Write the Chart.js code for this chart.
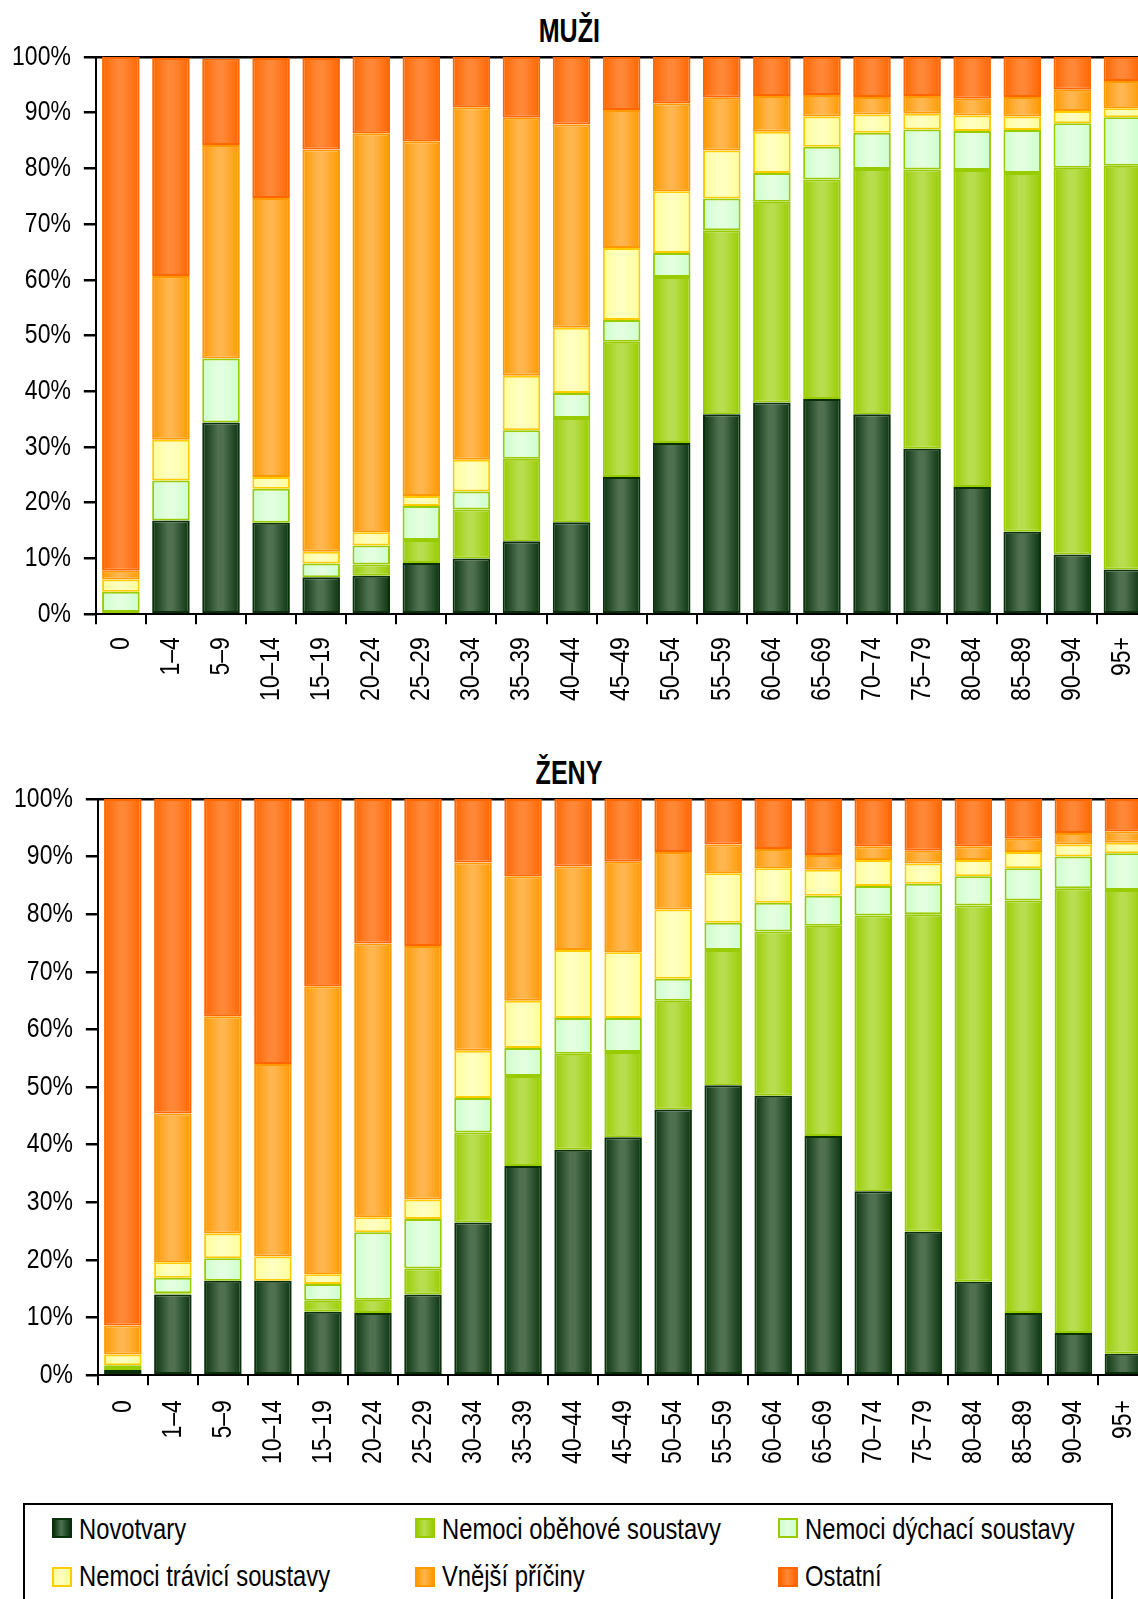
<!DOCTYPE html>
<html>
<head>
    <meta charset="utf-8">
    <title>Zemřelí podle příčin smrti a věku</title>
    <style>
        body { margin: 0; width: 1138px; height: 1599px; overflow: hidden; position: relative; background: #fff;
               font-family: 'Liberation Sans', Arial, sans-serif; }
        canvas { position: absolute; left: 0; }
        .titulek { position: absolute; left: 0; width: 1138px; text-align: center; font-weight: bold;
                   font-size: 33px; line-height: 33px; color: #000; }
        .titulek span { display: inline-block; transform: scaleX(0.76); }
        #legenda { position: absolute; left: 23px; top: 1503px; width: 1086px; height: 130px;
                   border: 2px solid #000; }
        .znacka { position: absolute; width: 16px; height: 16px; border: 2px solid; }
        .text { position: absolute; font-size: 29px; line-height: 29px; color: #000; white-space: nowrap;
                transform: scaleX(0.82); transform-origin: 0 0; }
    </style>
    <script src="https://cdn.jsdelivr.net/npm/chart.js"></script>
</head>
<body>
    <div class="titulek" style="top:14px"><span>MUŽI</span></div>
    <canvas id="grafMuzi" width="1164" height="730" style="top:0"></canvas>
    <div class="titulek" style="top:756px"><span>ŽENY</span></div>
    <canvas id="grafZeny" width="1165" height="750" style="top:740px"></canvas>
    <div id="legenda"></div>
    <script>
        // vekove skupiny
        var vekoveSkupiny = ['0', '1–4', '5–9', '10–14', '15–19', '20–24', '25–29', '30–34', '35–39', '40–44',
            '45–49', '50–54', '55–59', '60–64', '65–69', '70–74', '75–79', '80–84', '85–89', '90–94', '95+'];

        var nazvySkupin = ['Novotvary', 'Nemoci oběhové soustavy', 'Nemoci dýchací soustavy',
            'Nemoci trávicí soustavy', 'Vnější příčiny', 'Ostatní'];

        // muzi (%)
        var muziNovotvary = [0.2, 16.8, 34.4, 16.4, 6.6, 6.9, 9.2, 10.0, 13.1, 16.5, 24.6, 30.7, 35.9, 38.0, 38.6, 35.9, 29.7, 22.8, 14.8, 10.7, 8.0];
        var muziObehove   = [0.2, 0, 0, 0, 0, 2.0, 4.1, 8.8, 14.8, 18.7, 24.3, 29.8, 33.0, 36.0, 39.4, 44.0, 50.1, 56.9, 64.4, 69.4, 72.5];
        var muziDychaci   = [3.6, 7.2, 11.5, 6.1, 2.5, 3.4, 6.1, 3.2, 5.1, 4.5, 3.9, 4.3, 5.7, 5.2, 5.9, 6.5, 7.2, 7.0, 7.7, 8.0, 8.7];
        var muziTravici   = [2.2, 7.3, 0, 2.1, 2.1, 2.4, 1.8, 5.7, 9.8, 11.7, 12.9, 11.1, 8.6, 7.4, 5.4, 3.3, 2.8, 2.8, 2.4, 2.2, 1.6];
        var muziVnejsi    = [1.6, 29.4, 38.3, 50.1, 72.2, 71.6, 63.7, 63.3, 46.3, 36.5, 24.8, 15.8, 9.5, 6.4, 3.9, 3.1, 3.2, 3.0, 3.5, 3.8, 4.9];
        var muziOstatni   = [92.2, 39.1, 15.5, 25.1, 16.4, 13.7, 15.1, 9.0, 10.9, 12.1, 9.5, 8.3, 7.3, 7.0, 6.8, 7.2, 7.0, 7.5, 7.2, 5.9, 4.3];

        // zeny (%)
        var zenyNovotvary = [0.9, 14.0, 16.4, 16.4, 11.0, 10.8, 14.0, 26.5, 36.3, 39.1, 41.3, 46.1, 50.3, 48.5, 41.5, 31.9, 24.9, 16.2, 10.8, 7.3, 3.7];
        var zenyObehove   = [0.5, 0.2, 0, 0, 1.9, 2.3, 4.5, 15.6, 15.6, 16.7, 14.8, 18.9, 23.5, 28.5, 36.5, 47.9, 55.1, 65.3, 71.6, 77.2, 80.5];
        var zenyDychaci   = [0.3, 2.7, 3.9, 0, 2.9, 11.7, 8.6, 6.0, 4.9, 6.2, 5.9, 3.8, 4.7, 5.0, 5.2, 5.1, 5.3, 5.1, 5.6, 5.5, 6.4];
        var zenyTravici   = [1.9, 2.7, 4.3, 4.2, 1.7, 2.6, 3.4, 8.2, 8.2, 11.8, 11.4, 12.0, 8.6, 6.0, 4.5, 4.5, 3.5, 2.8, 2.8, 2.1, 1.8];
        var zenyVnejsi    = [5.0, 25.8, 37.7, 33.4, 50.0, 47.5, 44.0, 32.7, 21.6, 14.5, 15.7, 10.0, 5.0, 3.3, 2.6, 2.4, 2.2, 2.4, 2.3, 2.0, 2.0];
        var zenyOstatni   = [91.4, 54.6, 37.7, 46.0, 32.5, 25.1, 25.5, 11.0, 13.4, 11.7, 10.9, 9.2, 7.9, 8.7, 9.7, 8.2, 9.0, 8.2, 6.9, 5.9, 5.6];

        // barvy: okraj, stred sloupce, obrys
        var barvy = [
            ['#0b3210', '#4f714f', '#0a300a'],
            ['#99cc00', '#b8de4f', '#99cc00'],
            ['#ccffcc', '#e4ffe0', '#99cc00'],
            ['#ffff99', '#ffffc0', '#ffcc00'],
            ['#ff9900', '#ffb64f', '#ff9900'],
            ['#ff6600', '#ff8838', '#ff6600']
        ];

        function prechod(b) {
            return function (ctx) {
                var chart = ctx.chart;
                var xs = chart.scales.x;
                if (!xs || ctx.dataIndex === undefined || !chart.chartArea) return b[0];
                var cx = xs.getPixelForValue(ctx.dataIndex);
                var pul = xs.width / vekoveSkupiny.length * 0.75 / 2;
                var g = chart.ctx.createLinearGradient(cx - pul, 0, cx + pul, 0);
                g.addColorStop(0, b[0]);
                g.addColorStop(0.42, b[1]);
                g.addColorStop(0.55, b[1]);
                g.addColorStop(1, b[0]);
                return g;
            };
        }

        // popisky os v uzsim (zuzenem) pismu, jako Arial Narrow
        var uzkePopisky = {
            id: 'uzkePopisky',
            afterDraw: function (chart, args, opts) {
                var ctx = chart.ctx;
                var area = chart.chartArea;
                var xs = chart.scales.x, ys = chart.scales.y;
                ctx.save();
                ctx.fillStyle = '#000';
                ctx.font = '28px "Liberation Sans", Arial, sans-serif';
                ctx.textBaseline = 'middle';
                ctx.textAlign = 'right';
                ys.ticks.forEach(function (t, i) {
                    ctx.save();
                    ctx.translate(area.left - 25, ys.getPixelForTick(i));
                    ctx.scale(0.82, 1);
                    ctx.fillText(t.value + '%', 0, 0);
                    ctx.restore();
                });
                xs.ticks.forEach(function (t, i) {
                    ctx.save();
                    ctx.translate(xs.getPixelForTick(i), area.bottom + opts.odstup);
                    ctx.rotate(-Math.PI / 2);
                    ctx.scale(0.82, 1);
                    ctx.fillText(vekoveSkupiny[t.value], 0, 0);
                    ctx.restore();
                });
                ctx.restore();
            }
        };

        function vytvorGraf(id, rady, odsazeni, odstup) {
            var datasets = rady.map(function (hodnoty, i) {
                return {
                    label: nazvySkupin[i],
                    data: hodnoty,
                    backgroundColor: prechod(barvy[i]),
                    borderColor: barvy[i][2],
                    borderWidth: 2,
                    borderSkipped: false,
                    barPercentage: 0.75,
                    categoryPercentage: 1
                };
            });
            return new Chart(document.getElementById(id), {
                type: 'bar',
                data: { labels: vekoveSkupiny, datasets: datasets },
                plugins: [uzkePopisky],
                options: {
                    responsive: false,
                    animation: false,
                    layout: { padding: odsazeni },
                    plugins: {
                        legend: { display: false },
                        tooltip: { enabled: false },
                        uzkePopisky: { odstup: odstup }
                    },
                    scales: {
                        x: {
                            stacked: true,
                            border: { display: true, color: '#000', width: 2 },
                            grid: { drawOnChartArea: false, color: '#000', tickColor: '#000', tickLength: 10, lineWidth: 2 },
                            ticks: { color: 'rgba(0,0,0,0)', font: { size: 28 }, maxRotation: 90, minRotation: 90,
                                     autoSkip: false, padding: 8 }
                        },
                        y: {
                            stacked: true,
                            min: 0,
                            max: 100,
                            border: { display: true, color: '#000', width: 2 },
                            grid: {
                                color: function (c) { return c.tick && c.tick.value === 100 ? '#000' : 'rgba(0,0,0,0)'; },
                                tickColor: '#000', tickLength: 12, lineWidth: 2.5
                            },
                            ticks: { color: 'rgba(0,0,0,0)', stepSize: 10, padding: 12, font: { size: 23 },
                                     callback: function (v) { return v + '%'; } }
                        }
                    }
                }
            });
        }

        vytvorGraf('grafMuzi', [muziNovotvary, muziObehove, muziDychaci, muziTravici, muziVnejsi, muziOstatni],
            { left: 1, right: 0, top: 57, bottom: 12 }, 23);
        vytvorGraf('grafZeny', [zenyNovotvary, zenyObehove, zenyDychaci, zenyTravici, zenyVnejsi, zenyOstatni],
            { left: 3, right: 0, top: 59, bottom: 11 }, 25);

        // legenda
        var sloupce = [27, 390, 753];
        var legenda = document.getElementById('legenda');
        nazvySkupin.forEach(function (nazev, i) {
            var x = sloupce[i % 3];
            var radek = Math.floor(i / 3);
            var z = document.createElement('div');
            z.className = 'znacka';
            z.style.left = x + 'px';
            z.style.top = (13 + radek * 49) + 'px';
            z.style.borderColor = barvy[i][2];
            z.style.background = 'linear-gradient(to right, ' + barvy[i][0] + ', ' + barvy[i][1] + ' 45%, ' + barvy[i][0] + ')';
            legenda.appendChild(z);
            var t = document.createElement('div');
            t.className = 'text';
            t.style.left = (x + 27) + 'px';
            t.style.top = (9.5 + radek * 47.5) + 'px';
            t.textContent = nazev;
            legenda.appendChild(t);
        });
    </script>
</body>
</html>
